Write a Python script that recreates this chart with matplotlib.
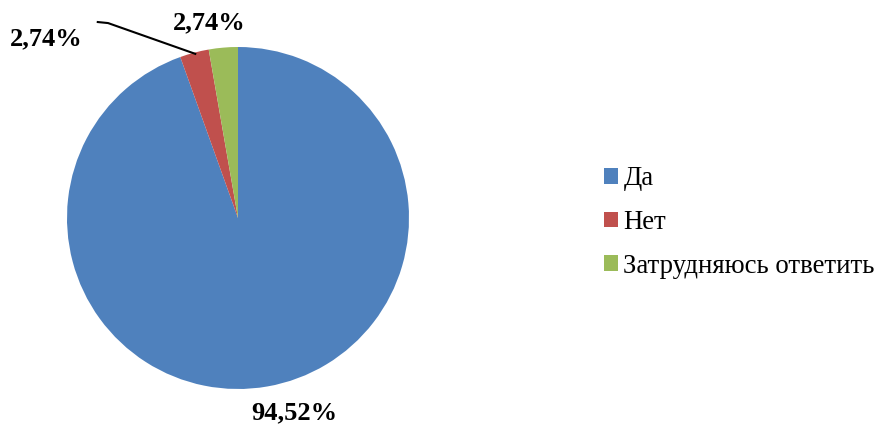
import matplotlib.pyplot as plt

labels = ['Да', 'Нет', 'Затрудняюсь ответить']
values = [94.52, 2.74, 2.74]
value_texts = ['94,52%', '2,74%', '2,74%']
colors = ['#4F81BD', '#C0504D', '#9BBB59']

plt.rcParams['font.family'] = ['Liberation Serif', 'DejaVu Serif']

fig = plt.figure(figsize=(8.76, 4.28), dpi=100)
ax = fig.add_axes([67 / 876, 39 / 428, 342 / 876, 342 / 428])
wedges, _ = ax.pie(values, colors=colors, startangle=90, counterclock=False,
                   wedgeprops=dict(linewidth=0))
ax.set_xlim(-1, 1)
ax.set_ylim(-1, 1)
ax.set_aspect('equal')

# labels
kw = dict(ha='center', va='center', fontsize=19, fontweight='bold', clip_on=False)
ax.text(0.33, -1.14, value_texts[0], **kw)
ax.text(-0.17, 1.14, value_texts[2], **kw)
ax.text(-1.12, 1.05, value_texts[1], **kw)
ax.plot([-0.82, -0.76, -0.25], [1.146, 1.14, 0.96], color='black', lw=1.5, clip_on=False)

leg = fig.legend(wedges, labels, loc='center left', bbox_to_anchor=(0.674, 0.48),
                 frameon=False, fontsize=19.3, handlelength=0.53, handleheight=0.53,
                 handletextpad=0.2, labelspacing=0.7, borderpad=0)

fig.savefig('out.png', dpi=100)
